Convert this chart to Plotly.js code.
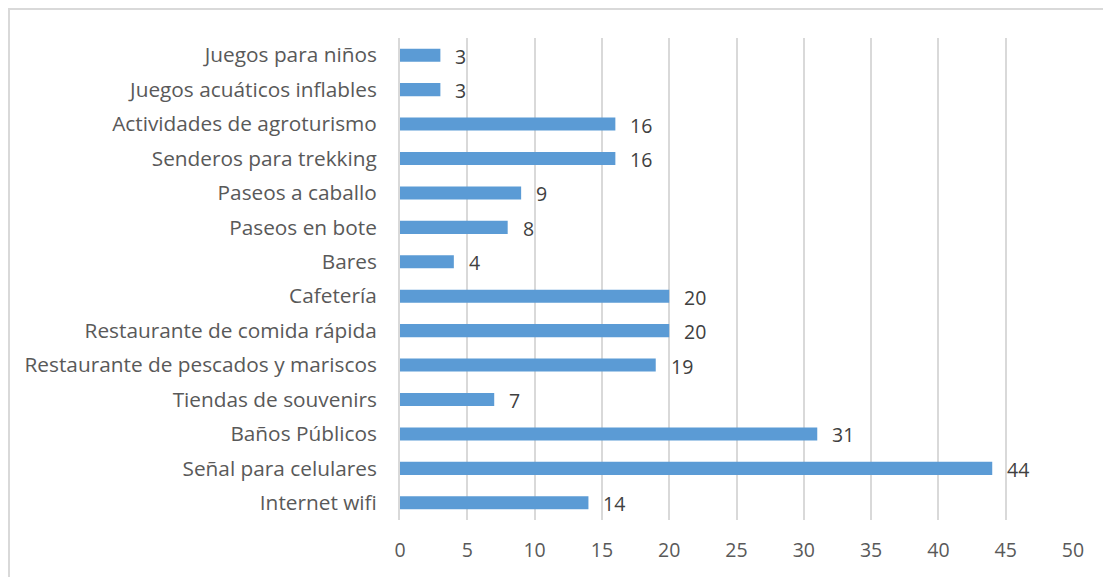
<!DOCTYPE html>
<html>
<head>
<meta charset="utf-8">
<script src="https://cdn.plot.ly/plotly-3.0.1.min.js"></script>
<style>
  html, body { margin: 0; padding: 0; background: #fff; }
  #wrap { position: relative; width: 1103px; height: 577px; }
  #frame { position: absolute; left: 8px; top: 8px; width: 1103px; height: 577px;
           border-top: 2px solid #D9D9D9; border-left: 2px solid #D9D9D9; box-sizing: border-box; pointer-events: none; }
  #chart { position: absolute; left: 0; top: 0; width: 1103px; height: 577px; }
</style>
</head>
<body>
<div id="wrap">
  <div id="chart"></div>
  <div id="frame"></div>
</div>
<script>
const categories = [
  "Internet wifi",
  "Señal para celulares",
  "Baños Públicos",
  "Tiendas de souvenirs",
  "Restaurante de pescados y mariscos",
  "Restaurante de comida rápida",
  "Cafetería",
  "Bares",
  "Paseos en bote",
  "Paseos a caballo",
  "Senderos para trekking",
  "Actividades de agroturismo",
  "Juegos acuáticos inflables",
  "Juegos para niños"
];
const values = [14, 44, 31, 7, 19, 20, 20, 4, 8, 9, 16, 16, 3, 3];
const xTicks = [0, 5, 10, 15, 20, 25, 30, 35, 40, 45, 50];

const FONT = "'Open Sans', sans-serif";
const TXT = "#595959";

const trace = {
  type: "bar",
  orientation: "h",
  y: categories,
  x: values,
  marker: { color: "#5B9BD5" },
  width: 0.38,
  hoverinfo: "none"
};

const labels = values.map((v, i) => ({
  x: v,
  y: categories[i],
  xref: "x",
  yref: "y",
  text: String(v),
  showarrow: false,
  xanchor: "left",
  yanchor: "middle",
  xshift: 13,
  yshift: -1,
  font: { family: FONT, size: 19.5, color: "#404040" }
}));

const layout = {
  width: 1103,
  height: 577,
  margin: { l: 400, r: 30, t: 38, b: 57 },
  paper_bgcolor: "rgba(0,0,0,0)",
  plot_bgcolor: "#fff",
  showlegend: false,
  font: { family: FONT, size: 17, color: TXT },
  annotations: labels,
  xaxis: {
    range: [0, 50],
    tickvals: xTicks,
    ticktext: xTicks.map(String),
    showgrid: true,
    gridcolor: "#D9D9D9",
    gridwidth: 2,
    zeroline: false,
    showline: false,
    ticks: "",
    ticklabelstandoff: 16,
    tickfont: { family: FONT, size: 19.5, color: TXT },
    fixedrange: true
  },
  yaxis: {
    type: "category",
    categoryorder: "array",
    categoryarray: categories,
    range: [-0.5, categories.length - 0.5],
    showgrid: false,
    zeroline: false,
    showline: true,
    linecolor: "#D9D9D9",
    linewidth: 2,
    ticks: "",
    ticklabelstandoff: 17,
    tickfont: { family: FONT, size: 20.8, color: TXT },
    fixedrange: true
  }
};

Plotly.newPlot("chart", [trace], layout, { displayModeBar: false, staticPlot: true });
</script>
</body>
</html>
